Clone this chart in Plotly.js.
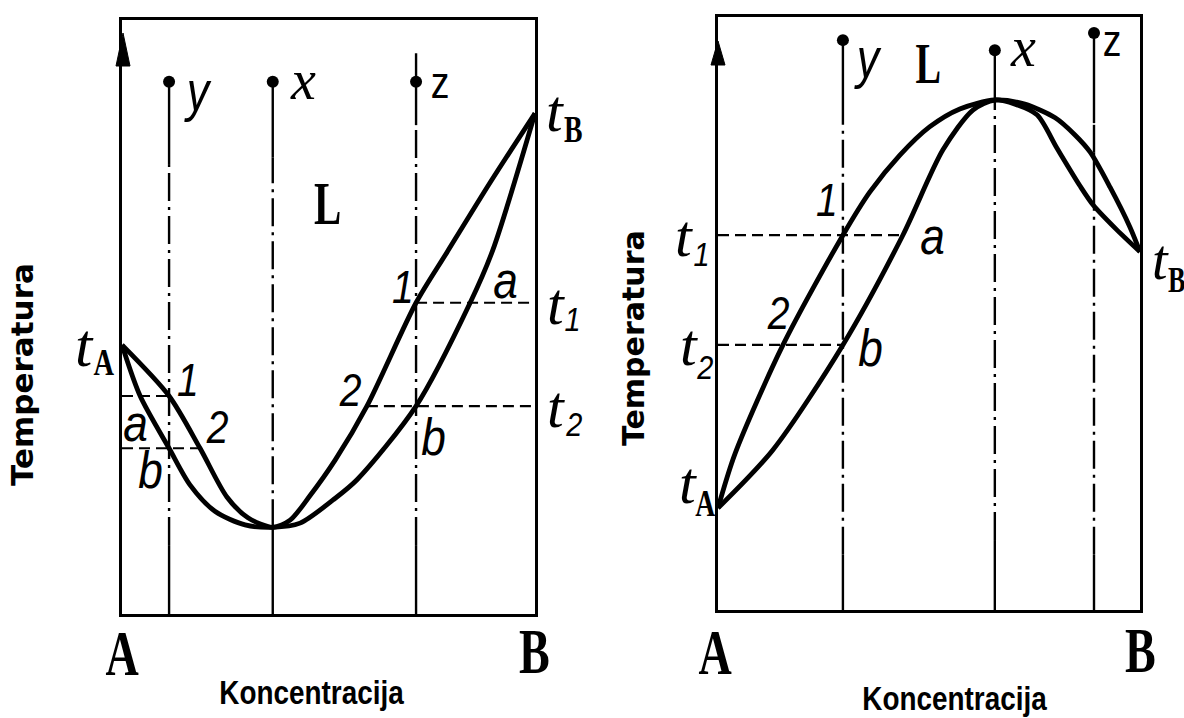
<!DOCTYPE html>
<html>
<head>
<meta charset="utf-8">
<script src="https://cdn.plot.ly/plotly-3.0.1.min.js"></script>
<style>html,body{margin:0;padding:0;background:#fff;}</style>
</head>
<body>
<div id="chart" style="width:1184px;height:718px;"></div>
<script>
// ---- Left diagram: azeotrope with a melting-point minimum ----
const leftLiquidusX = [0, 11.4, 18.9, 25.4, 30.5, 36.5, 40.7, 45.5, 51.6, 59.3, 71.2, 78.7, 89.1, 100];
const leftLiquidusT = [45.3, 36.7, 27.9, 19.7, 16.2, 14.6, 15.8, 19.9, 25.9, 35.0, 52.4, 60.9, 72.6, 84.3];
const leftSolidusX = [0, 4.4, 11.4, 16.5, 22.5, 29.8, 36.5, 43.1, 51.1, 56.9, 71.2, 84.3, 89.8, 100];
const leftSolidusT = [45.3, 36.7, 27.9, 21.7, 17.3, 15.0, 14.6, 15.3, 19.2, 22.6, 35.0, 52.4, 61.3, 84.3];
const leftAlloys = ['y', 'x', 'z'];
const leftAlloyX = [11.4, 36.5, 71.2];
const leftAlloyStartT = [89.6, 89.6, 89.6];
const leftTieT = [36.7, 27.9, 52.4, 35.0];
const leftTieFrom = [0, 0, 71.2, 59.3];
const leftTieTo = [11.4, 18.9, 100, 100];

// ---- Right diagram: azeotrope with a melting-point maximum ----
const rightLiquidusX = [0, 4.0, 15.4, 29.6, 36.0, 43.1, 50.2, 57.3, 65.6, 72.7, 79.9, 84.6, 88.2, 92.9, 97.6, 100];
const rightLiquidusT = [17.2, 26.3, 44.7, 63.2, 70.5, 76.7, 81.5, 84.5, 86.0, 85.3, 83.0, 80.1, 77.2, 71.3, 64.6, 60.4];
const rightSolidusX = [0, 13.0, 29.6, 43.8, 53.3, 60.4, 65.6, 70.4, 75.6, 80.3, 85.8, 88.9, 94.1, 100];
const rightSolidusT = [17.2, 27.0, 44.7, 63.2, 77.6, 84.3, 86.0, 85.3, 83.5, 77.9, 71.5, 68.3, 64.4, 60.4];
const rightAlloys = ['y', 'x', 'z'];
const rightAlloyX = [29.6, 65.6, 89.1];
const rightAlloyStartT = [96.1, 94.4, 97.3];
const rightTieT = [63.2, 44.7];
const rightTieFrom = [0, 0];
const rightTieTo = [43.8, 29.6];

// Cooling path of each alloy: [lower T, upper T, solid stroke?]
const leftPaths = [
  [[75.6, 89.6, true], [11.6, 75.6, false], [0, 11.6, true]],
  [[76.9, 89.6, true], [14.6, 76.9, false], [0, 14.6, true]],
  [[82.3, 94.4, true], [11.6, 82.3, false], [0, 11.6, true]]
];
const rightPaths = [
  [[86.0, 96.1, true], [9.3, 86.0, false], [0, 9.3, true]],
  [[86.0, 94.4, true], [11.8, 86.0, false], [0, 11.8, true]],
  [[82.1, 97.3, true], [77.1, 82.1, false], [68.0, 77.1, true], [9.3, 68.0, false], [0, 9.3, true]]
];

const W = 1184, H = 718;
const fx = p => p / W;
const fy = p => 1 - p / H;

const DASHDOT = '28px,6px,3px,6px';
const traces = [];

function curve(xs, ts, xa, ya) {
  traces.push({x: xs, y: ts, xaxis: xa, yaxis: ya, mode: 'lines', hoverinfo: 'skip',
    line: {color: '#000', width: 4.8, shape: 'spline', smoothing: 0.8}});
}
function paths(alloyX, segs, startT, xa, ya) {
  alloyX.forEach((cx, i) => {
    segs[i].forEach(s => {
      traces.push({x: [cx, cx], y: [s[0], s[1]], xaxis: xa, yaxis: ya, mode: 'lines', hoverinfo: 'skip',
        line: {color: '#000', width: 2.4, dash: s[2] ? 'solid' : DASHDOT}});
    });
  });
  traces.push({x: alloyX, y: startT, xaxis: xa, yaxis: ya, mode: 'markers', hoverinfo: 'skip',
    marker: {color: '#000', size: 12, symbol: 'circle'}});
}
function ties(ts, from, to, xa, ya) {
  ts.forEach((t, i) => {
    traces.push({x: [from[i], to[i]], y: [t, t], xaxis: xa, yaxis: ya, mode: 'lines', hoverinfo: 'skip',
      line: {color: '#000', width: 2.2, dash: '11px,6px'}});
  });
}

ties(leftTieT, leftTieFrom, leftTieTo, 'x', 'y');
paths(leftAlloyX, leftPaths, leftAlloyStartT, 'x', 'y');
curve(leftLiquidusX, leftLiquidusT, 'x', 'y');
curve(leftSolidusX, leftSolidusT, 'x', 'y');

ties(rightTieT, rightTieFrom, rightTieTo, 'x2', 'y2');
paths(rightAlloyX, rightPaths, rightAlloyStartT, 'x2', 'y2');
curve(rightLiquidusX, rightLiquidusT, 'x2', 'y2');
curve(rightSolidusX, rightSolidusT, 'x2', 'y2');

const frame = {
  range: [0, 100], showgrid: false, zeroline: false, showticklabels: false, ticks: '',
  showline: true, mirror: true, linecolor: '#000', linewidth: 3, fixedrange: true
};

// ---- Text ----
const SANS = 'Liberation Sans, Arial, sans-serif';
const SERIF = 'Liberation Serif, Times New Roman, serif';
const annotations = [];
const squeeze = {};   // annotation index -> horizontal scale
function label(text, x, y, opts) {
  const o = opts || {};
  const font = {family: o.family || SANS, size: o.size || 48, color: '#000'};
  if (o.italic) font.style = 'italic';
  if (o.bold) font.weight = 'bold';
  const a = {
    text: text, x: fx(x), y: fy(y), xref: 'paper', yref: 'paper',
    xanchor: 'center', yanchor: 'middle', showarrow: false, font: font
  };
  if (o.angle) a.textangle = o.angle;
  if (o.squeeze) squeeze[annotations.length] = o.squeeze;
  annotations.push(a);
}
// temperature mark: italic t followed by a lowered index
function tMark(sub, tx, ty, sx, sy, tSize, bold) {
  label('t', tx, ty, {size: tSize, italic: true, family: SERIF});
  if (bold) label(sub, sx, sy, {size: Math.round(tSize * 0.62), bold: true, family: SERIF, squeeze: 0.75});
  else label(sub, sx, sy, {size: Math.round(tSize * 0.56), italic: true, squeeze: 0.85});
}
const small = {size: 46, italic: true, squeeze: 0.85};
const letter = {size: 52, italic: true, squeeze: 0.85};

// left diagram
label('y', 197, 90, {size: 56, italic: true, squeeze: 0.8});
label('x', 303, 80, {size: 56, italic: true, family: SERIF});
label('z', 440, 82, {size: 44, squeeze: 0.85});
label('L', 327, 203, {size: 62, bold: true, family: SERIF, squeeze: 0.66});
label('1', 188, 380, small);
label('2', 217, 427, small);
label('a', 135, 423, letter);
label('b', 150, 470, letter);
label('1', 403, 287, small);
label('a', 505, 280, letter);
label('2', 350, 390, small);
label('b', 433, 437, letter);
tMark('A', 84, 345, 104, 362, 62, true);
tMark('B', 555, 111, 573, 130, 60, true);
tMark('1', 556, 304, 572, 319, 60, false);
tMark('2', 556, 407, 574, 424, 60, false);
label('A', 122, 653, {size: 64, bold: true, family: SERIF, squeeze: 0.72});
label('B', 534, 651, {size: 64, bold: true, family: SERIF, squeeze: 0.72});
label('Koncentracija', 312, 692, {size: 34, bold: true, squeeze: 0.82});
label('Temperatura', 22, 375, {size: 31, bold: true, family: 'DejaVu Sans, sans-serif', angle: -90});

// right diagram
label('y', 867, 57, {size: 56, italic: true, squeeze: 0.8});
label('L', 928, 63, {size: 58, bold: true, family: SERIF, squeeze: 0.66});
label('x', 1023, 47, {size: 56, italic: true, family: SERIF});
label('z', 1112, 40, {size: 44, squeeze: 0.85});
label('1', 827, 200, small);
label('a', 932, 236, letter);
label('2', 778, 313, small);
label('b', 870, 348, letter);
tMark('1', 684, 236, 701, 254, 60, false);
tMark('2', 689, 345, 705, 367, 60, false);
tMark('A', 688, 483, 705, 504, 60, true);
tMark('B', 1160, 260, 1176, 280, 56, true);
label('A', 715, 652, {size: 64, bold: true, family: SERIF, squeeze: 0.72});
label('B', 1140, 650, {size: 64, bold: true, family: SERIF, squeeze: 0.72});
label('Koncentracija', 955, 698, {size: 34, bold: true, squeeze: 0.82});
label('Temperatura', 633, 338, {size: 30, bold: true, family: 'DejaVu Sans, sans-serif', angle: -90});

// Temperature axis arrowheads
function arrowHead(xc, tip, base, half) {
  return {
    type: 'path', xref: 'paper', yref: 'paper',
    path: 'M ' + fx(xc) + ' ' + fy(tip) + ' L ' + fx(xc - half) + ' ' + fy(base) +
          ' L ' + fx(xc + half) + ' ' + fy(base) + ' Z',
    fillcolor: '#000', line: {color: '#000', width: 1}
  };
}

const layout = {
  width: W, height: H,
  margin: {l: 0, r: 0, t: 0, b: 0},
  paper_bgcolor: '#fff', plot_bgcolor: '#fff',
  showlegend: false,
  xaxis: Object.assign({}, frame, {domain: [fx(122), fx(535)], anchor: 'y'}),
  yaxis: Object.assign({}, frame, {domain: [fy(614), fy(20)], anchor: 'x'}),
  xaxis2: Object.assign({}, frame, {domain: [fx(718), fx(1140)], anchor: 'y2'}),
  yaxis2: Object.assign({}, frame, {domain: [fy(610), fy(17)], anchor: 'x2'}),
  annotations: annotations,
  shapes: [arrowHead(123, 33, 66, 7), arrowHead(718, 41, 65, 7)]
};

Plotly.newPlot('chart', traces, layout, {staticPlot: true, displayModeBar: false}).then(gd => {
  // narrow the lettering horizontally around each label's centre
  Object.keys(squeeze).forEach(i => {
    const g = gd.querySelector('.annotation[data-index="' + i + '"]');
    if (!g) return;
    const t = g.querySelector('text.annotation-text');
    if (!t) return;
    const b = t.getBBox();
    const cx = b.x + b.width / 2;
    t.setAttribute('transform', 'translate(' + cx + ',0) scale(' + squeeze[i] + ',1) translate(' + (-cx) + ',0)');
  });
});
</script>
</body>
</html>
